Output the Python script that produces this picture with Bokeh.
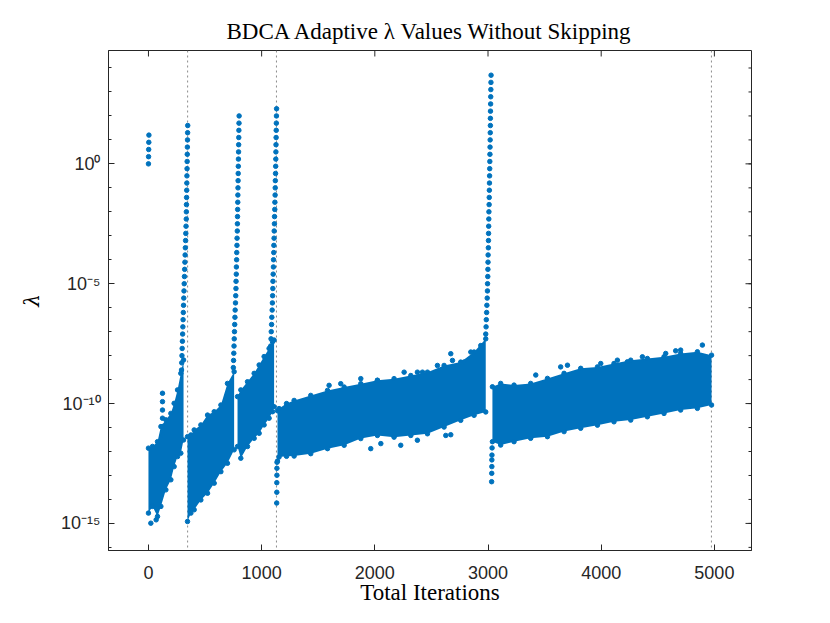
from bokeh.plotting import figure
from bokeh.models import Range1d, FixedTicker, Span, CustomJSTickFormatter
from bokeh.embed import file_html
from bokeh.resources import INLINE

BLUE = "#0072BD"
AX = "#262626"

# ---- data (iterations, log10(lambda)) ----
init_iter = [0, 1, 2, 3, 4]
init_log = [0.0, 0.3, 0.6, 0.9, 1.2]

# cloud envelopes (log10 lower / upper)
A_iter = [0, 36, 80, 110, 154, 198, 227, 257, 286, 310]
A_hi = [-11.86, -11.79, -11.59, -10.96, -10.68, -10.41, -9.99, -9.43, -8.74, -8.18]
A_lo = [-14.57, -14.29, -14.71, -14.29, -13.6, -13.18, -12.63, -12.21, -12.07, -11.52]

B_iter = [345, 375, 404, 463, 522, 581, 640, 698, 757]
B_hi = [-11.38, -11.31, -11.10, -10.89, -10.48, -10.34, -10.06, -9.16, -8.67]
B_lo = [-14.92, -14.57, -14.43, -14.02, -13.74, -13.32, -12.84, -12.49, -11.93]

C_iter = [787, 816, 875, 934, 978, 1022, 1066, 1096, 1110]
C_hi = [-9.71, -9.43, -9.09, -8.74, -8.39, -8.04, -7.70, -7.42, -7.35]
C_lo = [-11.79, -12.28, -11.79, -11.45, -11.24, -10.89, -10.61, -10.34, -10.13]

D_iter = [1140, 1154, 1220, 1287, 1434, 1582, 1729, 1876, 2023, 2170, 2318, 2465, 2612, 2759, 2877, 2980]
D_hi = [-10.3, -10.21, -10.0, -9.87, -9.66, -9.45, -9.31, -9.17, -9.03, -8.96, -8.83, -8.69, -8.41, -8.27, -7.85, -7.30]
D_lo = [-12.4, -12.23, -12.2, -12.19, -12.09, -11.88, -11.74, -11.46, -11.33, -11.40, -11.33, -11.26, -10.98, -10.70, -10.49, -10.35]

E_iter = [3039, 3112, 3230, 3377, 3525, 3672, 3819, 3967, 4113, 4261, 4408, 4555, 4702, 4850, 4975]
E_hi = [-9.3, -9.16, -9.23, -9.16, -8.95, -8.74, -8.53, -8.47, -8.33, -8.19, -8.12, -8.05, -7.91, -7.84, -7.98]
E_lo = [-11.59, -11.73, -11.59, -11.45, -11.38, -11.17, -11.03, -10.90, -10.76, -10.69, -10.55, -10.41, -10.27, -10.20, -10.06]

# spikes (consecutive points)
S1_iter = [292, 294, 296, 298, 300, 302, 304, 306, 308, 310, 312, 314, 316, 318, 320, 322, 324, 326, 328, 330, 332, 334,
           335, 336, 337, 338, 339, 340, 341, 342, 343, 344, 345, 346, 347]
S1_log = [-8.6, -8.3, -8.0, -7.7, -7.4, -7.1, -6.8, -6.5, -6.2, -5.9, -5.6, -5.3, -5.0, -4.7, -4.4, -4.1, -3.8, -3.5,
          -3.2, -2.9, -2.6, -2.3, -2.0, -1.7, -1.4, -1.1, -0.8, -0.5, -0.2, 0.1, 0.4, 0.7, 1.0, 1.3, 1.6]

S2_iter = [750, 752, 754, 756, 758, 760, 762, 764, 766, 769, 771, 773, 774, 776, 777, 779, 780, 782, 783, 785,
           786, 787, 788, 789, 790, 791, 792, 793, 794, 795, 796, 797, 798, 799, 800, 801]
S2_log = [-8.5, -8.2, -7.9, -7.6, -7.3, -7.0, -6.7, -6.4, -6.1, -5.8, -5.5, -5.2, -4.9, -4.6, -4.3, -4.0, -3.7, -3.4,
          -3.1, -2.8, -2.5, -2.2, -1.9, -1.6, -1.3, -1.0, -0.7, -0.4, -0.1, 0.2, 0.5, 0.8, 1.1, 1.4, 1.7, 2.0]

S3_iter = [1080, 1083, 1085, 1088, 1090, 1093, 1095, 1097, 1099, 1100, 1102, 1104, 1105, 1107, 1108, 1110,
           1111, 1113, 1114, 1116, 1117, 1119, 1120, 1121, 1123, 1124, 1125, 1126, 1127, 1128, 1129, 1130, 1131, 1132]
S3_log = [-7.6, -7.3, -7.0, -6.7, -6.4, -6.1, -5.8, -5.5, -5.2, -4.9, -4.6, -4.3, -4.0, -3.7, -3.4, -3.1, -2.8,
          -2.5, -2.2, -1.9, -1.6, -1.3, -1.0, -0.7, -0.4, -0.1, 0.2, 0.5, 0.8, 1.1, 1.4, 1.7, 2.0, 2.3]

S4_iter = [2980, 2983, 2985, 2988, 2990, 2993, 2995, 2996, 2998, 2999, 3000, 3001, 3003, 3004, 3005, 3006, 3007,
           3008, 3010, 3011, 3012, 3013, 3014, 3015, 3016, 3017, 3018, 3019, 3020, 3021, 3021, 3022, 3023, 3024,
           3025, 3026, 3027]
S4_log = [-7.1, -6.8, -6.5, -6.2, -5.9, -5.6, -5.3, -5.0, -4.7, -4.4, -4.1, -3.8, -3.5, -3.2, -2.9, -2.6, -2.3,
          -2.0, -1.7, -1.4, -1.1, -0.8, -0.5, -0.2, 0.1, 0.4, 0.7, 1.0, 1.3, 1.6, 1.9, 2.2, 2.5, 2.8, 3.1, 3.4, 3.7]

# drops after spikes, isolated column, outliers
T_iter = [124, 124, 124, 124, 124, 124]
T_log = [-9.57, -9.92, -10.27, -10.61, -10.96, -11.31]

D0_iter = [1136, 1135, 1135, 1134, 1134, 1133]
D0_log = [-12.45, -12.7, -12.99, -13.3, -13.7, -14.15]

E0_iter = [3036, 3035, 3034, 3034, 3033, 3032]
E0_log = [-11.85, -12.15, -12.35, -12.63, -12.91, -13.26]

O_iter = [21, 68, 1596, 1699, 1876, 2023, 2259, 2376, 2421, 2553, 2671, 2686, 2788, 2848, 2936,
          1964, 2053, 2229, 2376, 2627, 2671,
          3422, 3642, 3702, 3996, 4143, 4231, 4364, 4570, 4658, 4702, 4894]
O_log = [-14.99, -14.85, -9.24, -9.17, -8.96, -9.03, -8.69, -8.69, -8.69, -8.41, -7.92, -8.2, -8.27, -7.85, -7.58,
         -11.88, -11.67, -11.74, -11.53, -11.33, -11.3,
         -8.81, -8.47, -8.40, -8.33, -8.19, -8.26, -8.05, -7.91, -7.80, -7.77, -7.56]

phase_ends = [346, 1131, 4974]

x_ticks = [0, 1000, 2000, 3000, 4000, 5000]
y_major_exp = [-15, -10, -5, 0]
y_minor_exp = list(range(-16, 5))

TITLE = "BDCA Adaptive λ Values Without Skipping"
XLABEL = "Total Iterations"
YLABEL = "λ"

XMIN, XMAX = -353, 5328
LYMIN, LYMAX = -16.13, 4.73
LEFT, TOP = 108, 50
FRAME_W, FRAME_H = 643, 501


def pw(a):
    return [10.0 ** v for v in a]


p = figure(width=814, height=607, y_axis_type="log",
           x_range=Range1d(XMIN, XMAX), y_range=Range1d(10 ** LYMIN, 10 ** LYMAX),
           output_backend="svg", toolbar_location=None,
           min_border_left=LEFT, min_border_right=814 - LEFT - FRAME_W,
           min_border_top=TOP, min_border_bottom=607 - TOP - FRAME_H)

p.title.text = TITLE
p.title.align = "center"
p.title.text_font = "Liberation Serif"
p.title.text_font_size = "23px"
p.title.text_font_style = "normal"
p.title.text_color = "black"
p.title.standoff = 13

p.grid.visible = False
p.outline_line_color = AX
p.outline_line_width = 1

px_x = (XMAX - XMIN) / FRAME_W          # data units per pixel (x)
dec_px = (LYMAX - LYMIN) / FRAME_H      # decades per pixel (y)

for pos in phase_ends:
    p.add_layout(Span(location=pos, dimension="height", line_color="#8c8c8c",
                      line_dash="2 3", line_width=1, level="underlay"))

for it, lo, hi in [(A_iter, A_lo, A_hi), (B_iter, B_lo, B_hi), (C_iter, C_lo, C_hi),
                   (D_iter, D_lo, D_hi), (E_iter, E_lo, E_hi)]:
    p.varea(x=it, y1=pw(lo), y2=pw(hi), fill_color=BLUE)
    p.scatter(x=it + it, y=pw(lo) + pw(hi), size=4.5, color=BLUE)

for it, lg in [(init_iter, init_log), (S1_iter, S1_log), (S2_iter, S2_log), (S3_iter, S3_log),
               (S4_iter, S4_log), (T_iter, T_log), (D0_iter, D0_log), (E0_iter, E0_log), (O_iter, O_log)]:
    p.scatter(x=it, y=pw(lg), size=4.5, color=BLUE)

# bottom axis
xa = p.xaxis[0]
xa.ticker = FixedTicker(ticks=x_ticks)
xa.major_label_standoff = 15
xa.axis_label = XLABEL
xa.axis_label_text_font = "Liberation Serif"
xa.axis_label_text_font_size = "23px"
xa.axis_label_standoff = -2

# left axis
ya = p.yaxis[0]
ya.ticker = FixedTicker(ticks=[10.0 ** e for e in y_major_exp], minor_ticks=[10.0 ** e for e in y_minor_exp])
ya.formatter = CustomJSTickFormatter(code="""
const sup = {"0": "\u2070", "1": "\u00b9", "2": "\u00b2", "3": "\u00b3", "4": "\u2074", "5": "\u2075",
             "6": "\u2076", "7": "\u2077", "8": "\u2078", "9": "\u2079", "-": "\u207b"};
const e = Math.round(Math.log10(tick));
return "10" + String(e).split("").map(c => sup[c]).join("");
""")
ya.major_label_standoff = 8
ya.axis_label = YLABEL
ya.axis_label_text_font = "DejaVu Serif"
ya.axis_label_text_font_size = "20px"
ya.axis_label_standoff = 14

for ax in [xa, ya]:
    ax.axis_line_color = AX
    ax.major_tick_line_color = AX
    ax.minor_tick_line_color = AX
    ax.major_tick_in = 6
    ax.major_tick_out = 0
    ax.minor_tick_in = 3 if ax is ya else 0
    ax.minor_tick_out = 0
    ax.major_label_text_color = AX
    ax.major_label_text_font = "Liberation Sans"
    ax.major_label_text_font_size = "18px"
    ax.axis_label_text_font_style = "italic" if ax is ya else "normal"
    ax.axis_label_text_color = "black"

# mirrored ticks on the right and top edges of the box
maj_y = [10.0 ** e for e in y_major_exp]
min_y = [10.0 ** e for e in y_minor_exp]
p.segment(x0=[XMAX] * len(maj_y), x1=[XMAX - 6 * px_x] * len(maj_y), y0=maj_y, y1=maj_y, line_color=AX, line_width=1)
p.segment(x0=[XMAX] * len(min_y), x1=[XMAX - 3 * px_x] * len(min_y), y0=min_y, y1=min_y, line_color=AX, line_width=1)
p.segment(x0=x_ticks, x1=x_ticks, y0=[10.0 ** LYMAX] * len(x_ticks),
          y1=[10.0 ** (LYMAX - 6 * dec_px)] * len(x_ticks), line_color=AX, line_width=1)

open("out.html", "w").write(file_html(p, INLINE))
